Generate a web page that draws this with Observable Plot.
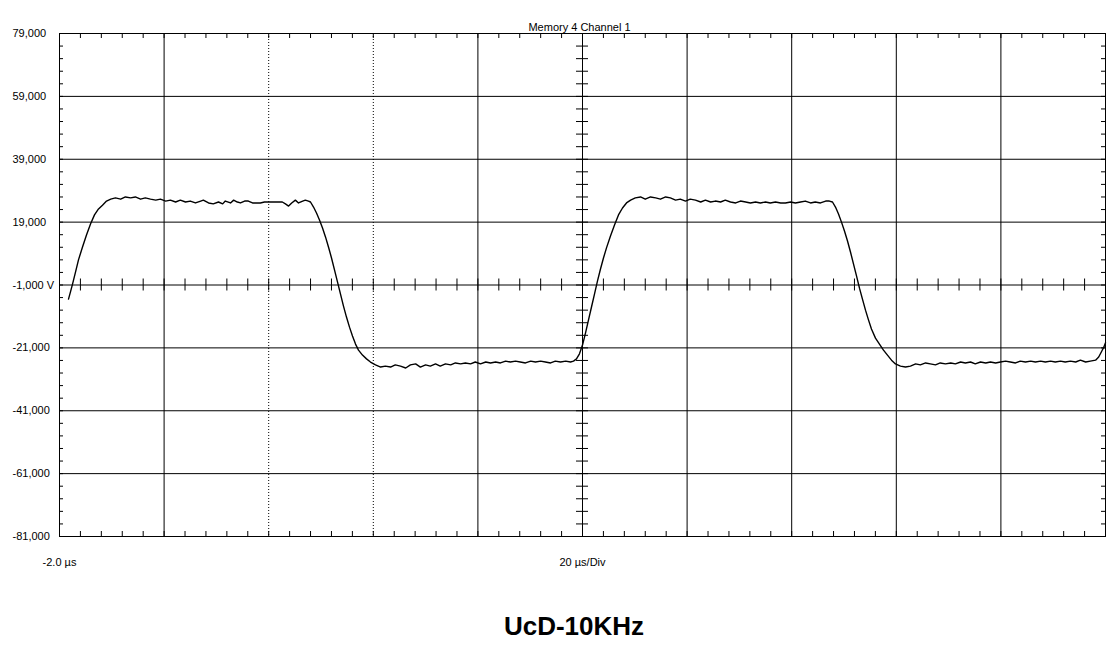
<!DOCTYPE html>
<html>
<head>
<meta charset="utf-8">
<script src="https://cdn.jsdelivr.net/npm/d3@7"></script>
<script src="https://cdn.jsdelivr.net/npm/@observablehq/plot@0.6"></script>
<style>
  body { margin: 0; background: #fff; font-family: "Liberation Sans", Arial, sans-serif; }
  #wrap { position: relative; width: 1108px; height: 649px; overflow: hidden; }
  #title { position: absolute; left: 0; top: 610px; width: 1108px; padding-left: 40px; box-sizing: border-box;
           text-align: center; font: bold 26px "Liberation Sans", Arial, sans-serif; line-height: 32px; color: #000; }
</style>
</head>
<body>
<div id="wrap"><div id="chart"></div><div id="title">UcD-10KHz</div></div>
<script>
// ---- Data (time in µs, amplitude in V) ----
const timeUs = [
  -0.28, 0.10, 0.49, 1.06, 1.63, 2.40, 3.16, 3.93, 4.69, 5.46, 6.22, 6.99,
  7.8, 8.7, 9.7, 10.6, 11.6, 12.5, 13.5, 14.4, 15.4, 16.4, 17.3, 18.3, 19.2, 20.2, 21.1, 22.1, 23.0, 24.0,
  25.0, 25.5, 26.5, 27.4, 28.4, 29.2, 29.7, 30.7, 31.3, 32.0, 32.6, 33.4, 34.1, 34.9, 35.7, 36.4, 37.2, 38.0,
  39.3, 40.6, 41.2, 41.8, 42.4, 43.1, 43.7, 44.5, 45.0, 45.6,
  45.99, 46.57, 47.14, 47.71, 48.29, 48.86, 49.43, 50.01, 50.58, 51.15, 51.73, 52.30, 52.87, 53.45, 54.02,
  54.60, 55.17, 55.93, 56.70, 57.46, 58.42,
  59.4, 60.3, 61.3, 62.2, 63.2, 64.2, 65.1, 66.1, 67.0, 68.0, 68.9, 69.9, 70.8, 71.8, 72.8, 73.7, 74.7, 75.6,
  76.6, 77.5, 78.5, 79.5, 80.4, 81.4, 82.3, 83.3, 84.2, 85.2, 86.1, 87.1, 88.1, 89.0, 90.0, 90.9, 91.9, 92.8,
  93.8, 94.8, 95.7,
  96.28, 96.85, 97.42, 98.00, 98.57, 99.15, 99.72, 100.29, 100.87, 101.44, 102.01, 102.59, 103.35, 104.12,
  104.88, 105.65, 106.41,
  107.2, 108.1, 109.1, 110.0, 111.0, 112.0, 112.9, 113.9, 114.8, 115.8, 116.7, 117.7, 118.6, 119.6, 120.6,
  121.5, 122.5, 123.4, 124.4, 125.3, 126.3, 127.3, 128.2, 129.2, 130.1, 131.1, 132.0, 133.0, 133.9, 134.9,
  135.9, 136.8, 137.8, 138.7, 139.7, 140.6, 141.6, 142.5, 143.5, 144.5, 145.2,
  145.80, 146.37, 146.95, 147.52, 148.09, 148.67, 149.24, 149.81, 150.39, 150.96, 151.53, 152.11, 152.68,
  153.25, 154.02, 154.78, 155.55, 156.31, 157.08, 157.84, 158.80, 159.76,
  160.7, 161.7, 162.6, 163.6, 164.5, 165.5, 166.4, 167.4, 168.4, 169.3, 170.3, 171.2, 172.2, 173.1, 174.1,
  175.1, 176.0, 177.0, 177.9, 178.9, 179.8, 180.8, 181.7, 182.7, 183.7, 184.6, 185.6, 186.5, 187.5, 188.4,
  189.4, 190.3, 191.3, 192.3, 193.2, 194.2, 195.1, 196.1, 196.7, 197.3, 197.7, 198.0
];
const volts = [
  -5.5, -3.2, -0.7, 3.1, 7.0, 11.1, 14.9, 18.4, 21.3, 23.2, 24.4, 25.7,
  26.3, 26.7, 26.3, 27.0, 26.7, 27.0, 26.3, 26.7, 26.3, 26.0, 26.3, 25.7, 26.0, 25.4, 26.0, 25.4, 25.7, 25.1,
  25.7, 26.0, 25.1, 24.8, 25.4, 24.8, 25.7, 25.1, 26.0, 25.4, 25.1, 25.7, 25.7, 25.1, 25.1, 25.1, 25.4, 25.4,
  25.4, 25.4, 24.8, 24.1, 25.1, 26.0, 25.1, 25.7, 26.0, 25.7,
  25.4, 23.8, 21.9, 19.7, 17.1, 14.3, 11.1, 7.6, 3.8, 0.0, -3.9, -7.7, -11.2, -14.4, -17.2,
  -19.8, -21.7, -23.3, -24.5, -25.5, -26.4,
  -27.1, -26.8, -27.1, -26.4, -26.8, -27.4, -26.4, -26.1, -27.1, -26.4, -26.8, -26.1, -26.8, -26.1, -26.4, -25.8, -26.1, -25.8,
  -26.1, -25.5, -26.1, -25.5, -25.8, -25.5, -25.8, -25.2, -25.5, -25.2, -25.5, -25.8, -25.2, -25.5, -25.2, -25.5, -25.8, -25.2,
  -25.5, -25.2, -25.5,
  -25.2, -24.5, -22.9, -20.1, -16.3, -12.1, -8.0, -3.9, 0.3, 4.1, 7.6, 10.8, 14.6, 18.1,
  21.3, 23.5, 25.1,
  26.0, 26.7, 27.0, 26.3, 27.0, 26.7, 26.3, 27.0, 26.7, 26.0, 26.3, 25.7, 26.3, 26.0, 25.4,
  26.0, 25.4, 25.7, 25.4, 26.0, 25.4, 25.1, 25.7, 25.4, 25.1, 25.4, 25.1, 25.4, 25.1, 25.4,
  25.1, 25.1, 25.4, 25.1, 25.4, 25.7, 25.1, 25.4, 25.1, 25.7, 25.7,
  25.4, 23.8, 21.6, 19.0, 16.2, 13.0, 9.5, 5.7, 1.9, -2.0, -5.5, -9.0, -12.1,
  -15.0, -17.9, -19.8, -21.7, -23.3, -24.9, -26.1, -26.8, -27.1,
  -26.8, -26.1, -26.4, -25.8, -26.1, -26.4, -25.8, -26.1, -25.8, -26.1, -25.5, -25.8, -25.5, -26.1, -25.5,
  -25.8, -25.5, -25.8, -25.5, -25.2, -25.5, -25.8, -25.2, -25.5, -25.2, -25.5, -25.2, -25.5, -25.2, -25.5,
  -25.2, -25.5, -25.2, -25.5, -24.9, -25.5, -25.2, -24.9, -23.9, -22.0, -20.7, -19.4
];

// Axis / grid definitions
const xDomain = [-2, 198];
const yDomain = [-81, 79];
const yTicks = [79, 59, 39, 19, -1, -21, -41, -61, -81];
const yTickLabels = ["79,000", "59,000", "39,000", "19,000", "-1,000 V", "-21,000", "-41,000", "-61,000", "-81,000"];
const xGridSolid = [18, 78, 98, 118, 138, 158, 178];
const xGridDotted = [38, 58];
const xCenter = 98;
const yCenter = -1;
const xMinor = d3.range(-2, 198.01, 4);
const yMinor = d3.range(-81, 79.01, 4);
const topLabel = "Memory 4 Channel 1";
const leftLabel = "-2.0 µs";
const divLabel = "20 µs/Div";

const wave = timeUs.map((t, i) => ({t, v: volts[i]}));
const W = 1108, H = 590, ML = 59, MR = 3, MT = 33, MB = 54;
const FW = W - ML - MR, FH = H - MT - MB;
const tick = 5;
const halfX = 6 * (xDomain[1] - xDomain[0]) / FW;
const halfY = 6 * (yDomain[1] - yDomain[0]) / FH;

const chart = Plot.plot({
  width: W, height: H,
  marginLeft: ML, marginRight: MR, marginTop: MT, marginBottom: MB,
  style: {fontFamily: "'Liberation Sans', Arial, sans-serif", fontSize: "11px", color: "#000", background: "#fff"},
  x: {domain: xDomain, axis: null},
  y: {domain: yDomain, axis: null},
  marks: [
    Plot.ruleY(yTicks, {stroke: "#000", strokeWidth: 1}),
    Plot.ruleX(xGridSolid, {stroke: "#000", strokeWidth: 1}),
    Plot.ruleX(xGridDotted, {stroke: "#000", strokeWidth: 1, strokeDasharray: "1,2"}),
    Plot.frame({stroke: "#000", strokeWidth: 1}),
    // edge minor ticks
    Plot.tickX(xMinor, {x: d => d, insetBottom: FH - tick, stroke: "#000"}),
    Plot.tickX(xMinor, {x: d => d, insetTop: FH - tick, stroke: "#000"}),
    Plot.tickY(yMinor, {y: d => d, insetRight: FW - tick + 1, stroke: "#000"}),
    Plot.tickY(yMinor, {y: d => d, insetLeft: FW - tick + 1, stroke: "#000"}),
    // center axes minor ticks
    Plot.ruleX(xMinor, {x: d => d, y1: yCenter - halfY, y2: yCenter + halfY, stroke: "#000"}),
    Plot.ruleY(yMinor, {y: d => d, x1: xCenter - halfX, x2: xCenter + halfX, stroke: "#000"}),
    // waveform
    Plot.line(wave, {x: "t", y: "v", stroke: "#000", strokeWidth: 1.4, curve: "linear"}),
    // labels
    Plot.text(yTicks, {y: d => d, text: (d, i) => yTickLabels[i], frameAnchor: "left", dx: -47, textAnchor: "start", fill: "#000", fontSize: 11}),
    Plot.text([topLabel], {text: d => d, frameAnchor: "top", dy: -10, dx: -3, fill: "#000", fontSize: 11}),
    Plot.text([leftLabel], {x: () => xDomain[0], text: d => d, frameAnchor: "bottom", dy: 29, fill: "#000", fontSize: 11}),
    Plot.text([divLabel], {x: () => xCenter, text: d => d, frameAnchor: "bottom", dy: 29, fill: "#000", fontSize: 11})
  ]
});
document.getElementById("chart").appendChild(chart);
</script>
</body>
</html>
